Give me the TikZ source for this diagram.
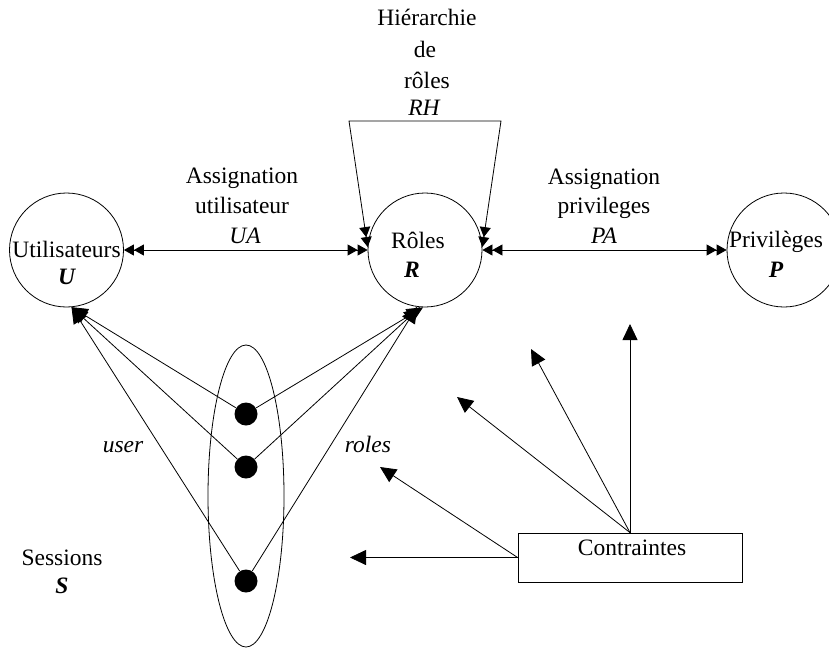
\documentclass[tikz,border=0pt]{standalone}
\usepackage{fontspec}
\setmainfont{Liberation Serif}
\usetikzlibrary{arrows.meta,shapes.geometric}

\tikzset{
  twohead/.tip={Triangle[length=10pt,width=11pt]Triangle[length=10pt,width=11pt]},
  bighead/.tip={Triangle[length=16pt,width=15pt]},
  setnode/.style={draw, circle, minimum size=114pt, inner sep=0pt},
  lbl/.style={anchor=base, inner sep=0pt},
  dotnode/.style={circle, fill=black, minimum size=23pt, inner sep=0pt},
}

\begin{document}
\begin{tikzpicture}[x=1pt, y=-1pt, line width=0.8pt,
  every node/.append style={font=\fontsize{23.5}{28}\selectfont}]
\useasboundingbox (0,0) rectangle (829,648);

% the three sets
\node[setnode] (U) at (66.5,250) {};
\node[setnode] (R) at (425,250) {};
\node[setnode] (P) at (784,250) {};

\node[lbl] (Ut) at (66.5,257) {Utilisateurs};
\node[lbl] (Us) at (66.5,284) {\bfseries\itshape U};
\node[lbl] (Rt) at (418,248) {Rôles};
\node[lbl] (Rs) at (412,277) {\bfseries\itshape R};
\node[lbl] (Pt) at (776,247) {Privilèges};
\node[lbl] (Ps) at (776,277) {\bfseries\itshape P};

% assignments
\draw[twohead-twohead] (U.east) -- (R.west);
\draw[twohead-twohead] (R.east) -- (P.west);

\node[lbl] (ua1) at (242,183) {Assignation};
\node[lbl] (ua2) at (242,213) {utilisateur};
\node[lbl] (ua3) at (245,243) {\itshape UA};
\node[lbl] (pa1) at (604,184) {Assignation};
\node[lbl] (pa2) at (604,213) {privileges};
\node[lbl] (pa3) at (604,243) {\itshape PA};

% role hierarchy
\coordinate (rhL) at (349,121);
\coordinate (rhR) at (501,121);
\draw[twohead-twohead] (R.177) -- (rhL) -- (rhR) -- (R.3);
\node[lbl] (rh1) at (427,25) {Hiérarchie};
\node[lbl] (rh2) at (425,57) {de};
\node[lbl] (rh3) at (427,88) {rôles};
\node[lbl] (rh4) at (424,115) {\itshape RH};

% sessions
\node[draw, ellipse, minimum width=76pt, minimum height=302pt, inner sep=0pt] (S) at (246,496) {};
\node[dotnode] (d1) at (246,414) {};
\node[dotnode] (d2) at (246,467) {};
\node[dotnode] (d3) at (246,581) {};

\draw[-bighead] (d1) -- (U.275);
\draw[-bighead] (d2) -- (U.275);
\draw[-bighead] (d3) -- (U.275);
\draw[-bighead] (d1) -- (R.268);
\draw[-bighead] (d2) -- (R.265);
\draw[-bighead] (d3) -- (R.262);

\node[lbl] (user) at (123,452) {\itshape user};
\node[lbl] (roles) at (368,452) {\itshape roles};
\node[lbl] (St) at (62,565) {Sessions};
\node[lbl] (Ss) at (62,593) {\bfseries\itshape S};

% constraints
\node[draw, rectangle, minimum width=224pt, minimum height=49pt, inner sep=0pt] (C) at (630,557.5) {};
\node[lbl] (Ct) at (632,555) {Contraintes};

\coordinate (c1) at (630,324);
\coordinate (c2) at (531,349);
\coordinate (c3) at (457,397);
\coordinate (c4) at (380,467);
\coordinate (c5) at (350,557.5);
\draw[-bighead] (C.north) -- (c1);
\draw[-bighead] (C.north) -- (c2);
\draw[-bighead] (C.north) -- (c3);
\draw[-bighead] (C.west) -- (c4);
\draw[-bighead] (C.west) -- (c5);
\end{tikzpicture}
\end{document}
